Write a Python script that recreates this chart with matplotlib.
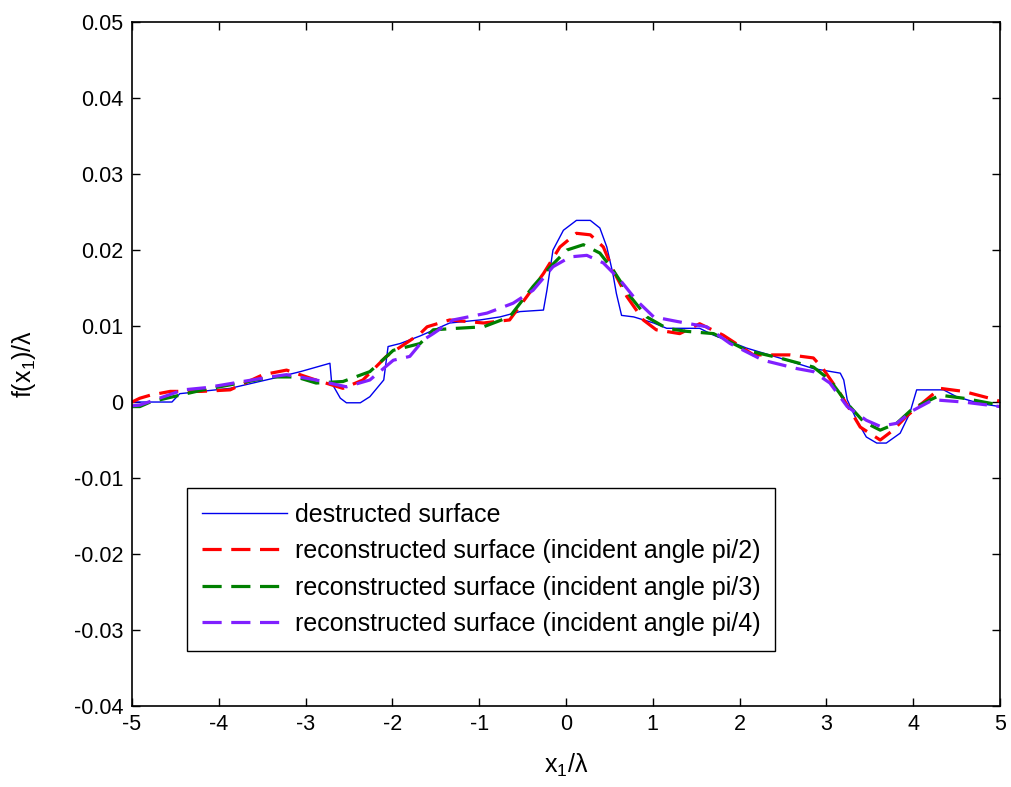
import matplotlib
matplotlib.use("Agg")
import matplotlib.pyplot as plt

# values
x_dest = [-5.0, -4.54, -4.45, -3.87, -3.38, -3.06, -2.72, -2.70, -2.60, -2.53, -2.37, -2.26,
          -2.10, -2.05, -1.91, -1.68, -1.34, -0.99, -0.76, -0.53, -0.26, -0.22, -0.15, -0.03,
          0.12, 0.28, 0.39, 0.47, 0.54, 0.58, 0.64, 0.78, 1.01, 1.16, 1.54, 1.70, 2.08, 2.46,
          2.85, 3.16, 3.20, 3.24, 3.35, 3.46, 3.58, 3.69, 3.85, 3.96, 4.04, 4.35, 4.50, 4.77, 5.0]
y_dest = [0.0000, 0.0000, 0.0011, 0.0018, 0.0031, 0.0040, 0.0051, 0.0025, 0.0005, -0.0001, -0.0001, 0.0007,
          0.0029, 0.0073, 0.0077, 0.0087, 0.0104, 0.0108, 0.0112, 0.0119, 0.0121, 0.0147, 0.0200, 0.0226,
          0.0239, 0.0239, 0.0229, 0.0204, 0.0169, 0.0143, 0.0114, 0.0112, 0.0104, 0.0097, 0.0097, 0.0088, 0.0071, 0.0058,
          0.0044, 0.0038, 0.0029, 0.0003, -0.0024, -0.0046, -0.0054, -0.0054, -0.0041, -0.0015, 0.0016, 0.0016, 0.0007, -0.0002, -0.0006]

x_pi2 = [-5.0, -4.91, -4.79, -4.56, -4.20, -3.87, -3.49, -3.22, -2.91, -2.57, -2.34, -2.07, -1.68,
         -1.60, -1.34, -0.95, -0.65, -0.45, -0.26, -0.07, 0.12, 0.28, 0.43, 0.54, 0.70, 0.89, 1.04,
         1.31, 1.54, 1.81, 2.16, 2.58, 2.85, 2.96, 3.16, 3.39, 3.62, 3.77, 3.92, 4.31, 4.58, 4.88, 5.0]
y_pi2 = [0.0000, 0.0005, 0.0009, 0.0014, 0.0014, 0.0016, 0.0036, 0.0042, 0.0030, 0.0018, 0.0029, 0.0060, 0.0090,
         0.0099, 0.0108, 0.0104, 0.0108, 0.0139, 0.0169, 0.0204, 0.0222, 0.0220, 0.0204, 0.0174, 0.0139, 0.0108, 0.0095,
         0.0090, 0.0103, 0.0088, 0.0062, 0.0062, 0.0058, 0.0044, 0.0011, -0.0033, -0.0050, -0.0037, -0.0019, 0.0018, 0.0014, 0.0005, 0.0001]

x_pi3 = [-5.0, -4.91, -4.79, -4.45, -4.18, -3.38, -3.11, -2.88, -2.57, -2.26, -1.99, -1.68, -1.53,
         -1.26, -0.95, -0.65, -0.38, -0.18, 0.01, 0.20, 0.39, 0.54, 0.74, 0.93, 1.16, 1.39, 1.70,
         2.08, 2.46, 2.85, 3.04, 3.24, 3.43, 3.62, 3.81, 4.00, 4.31, 4.58, 5.0]
y_pi3 = [-0.0006, -0.0006, 0.0000, 0.0009, 0.0016, 0.0033, 0.0033, 0.0025, 0.0027, 0.0040, 0.0068, 0.0077, 0.0095,
         0.0097, 0.0099, 0.0112, 0.0152, 0.0178, 0.0200, 0.0207, 0.0196, 0.0174, 0.0139, 0.0112, 0.0097, 0.0093, 0.0090,
         0.0068, 0.0058, 0.0046, 0.0029, -0.0002, -0.0026, -0.0037, -0.0028, -0.0008, 0.0009, 0.0005, -0.0004]

x_pi4 = [-5.0, -4.91, -4.41, -4.14, -3.41, -3.22, -2.88, -2.53, -2.26, -1.99, -1.80, -1.64, -1.53,
         -1.30, -0.91, -0.61, -0.38, -0.15, 0.05, 0.24, 0.43, 0.62, 0.81, 1.01, 1.28, 1.62, 1.89,
         2.27, 2.66, 2.85, 3.04, 3.24, 3.46, 3.62, 3.81, 4.00, 4.23, 4.58, 5.0]
y_pi4 = [-0.0005, -0.0004, 0.0016, 0.0019, 0.0033, 0.0036, 0.0029, 0.0020, 0.0029, 0.0055, 0.0060, 0.0082, 0.0090,
         0.0108, 0.0117, 0.0130, 0.0147, 0.0178, 0.0191, 0.0193, 0.0183, 0.0161, 0.0134, 0.0112, 0.0106, 0.0099, 0.0077,
         0.0055, 0.0044, 0.0040, 0.0025, -0.0006, -0.0024, -0.0032, -0.0028, -0.0011, 0.0003, 0.0000, -0.0006]

labels = ['destructed surface',
          'reconstructed surface (incident angle pi/2)',
          'reconstructed surface (incident angle pi/3)',
          'reconstructed surface (incident angle pi/4)']

xticks = list(range(-5, 6))
yticks = [-0.04, -0.03, -0.02, -0.01, 0, 0.01, 0.02, 0.03, 0.04, 0.05]
yticklabels = ['-0.04', '-0.03', '-0.02', '-0.01', '0', '0.01', '0.02', '0.03', '0.04', '0.05']

plt.rcParams['mathtext.default'] = 'regular'
font = ['Liberation Sans', 'DejaVu Sans']

fig = plt.figure(figsize=(10.11, 7.87), dpi=100)
ax = fig.add_axes([0.1306, 0.1029, 0.8585, 0.8691])

dash = (0, (6, 3))
ax.plot(x_dest, y_dest, color='#0000ee', lw=1.0, label=labels[0])
ax.plot(x_pi2, y_pi2, color='#ff0000', lw=2.3, ls=dash, label=labels[1])
ax.plot(x_pi3, y_pi3, color='#008000', lw=2.3, ls=dash, label=labels[2])
ax.plot(x_pi4, y_pi4, color='#8020ff', lw=2.3, ls=dash, label=labels[3])

ax.set_xlim(-5, 5)
ax.set_ylim(-0.04, 0.05)
ax.set_xticks(xticks)
ax.set_xticklabels([str(t) for t in xticks], family=font, fontsize=15.5)
ax.set_yticks(yticks)
ax.set_yticklabels(yticklabels, family=font, fontsize=15.5)
ax.tick_params(direction='in', length=6, width=1, top=True, right=True, pad=6)
for s in ax.spines.values():
    s.set_linewidth(1.2)

ax.set_xlabel(r'x$_1$/λ', family=font, fontsize=18, labelpad=12)
ax.set_ylabel(r'f(x$_1$)/λ', family=font, fontsize=18, labelpad=26)

leg = ax.legend(loc='lower left', bbox_to_anchor=(0.0634, 0.0804), borderaxespad=0,
                prop={'family': 'Liberation Sans', 'size': 18}, handlelength=3.4,
                handletextpad=0.3, labelspacing=0.5, borderpad=0.6, fancybox=False,
                framealpha=1, edgecolor='black')
leg.get_frame().set_linewidth(1.0)

fig.savefig('out.png', dpi=100)
